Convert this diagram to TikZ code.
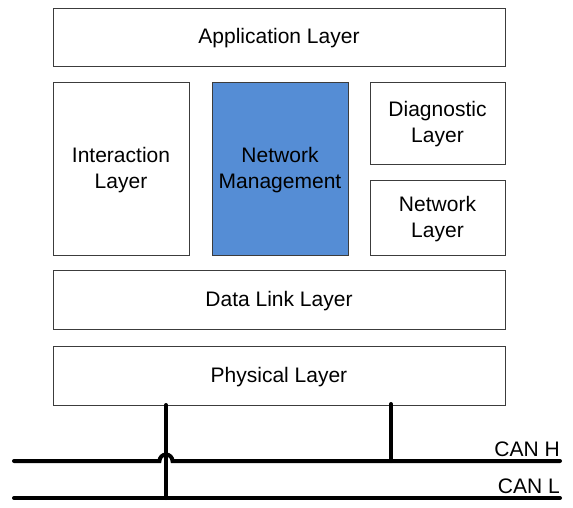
\documentclass[tikz,border=0pt]{standalone}
\usepackage{fontspec}
\setmainfont{Liberation Sans}
\definecolor{nmblue}{RGB}{85,141,213}
\definecolor{boxgray}{RGB}{60,60,60}
\begin{document}
\begin{tikzpicture}[x=1pt,y=1pt,
  layerbox/.style={draw=boxgray,line width=0.8pt,fill=white},
  boxtext/.style={font=\fontsize{21}{26}\selectfont,align=center,yshift=-1.5pt},
  bus/.style={line width=4pt,line cap=round},
  buslabel/.style={font=\fontsize{21}{24}\selectfont,inner sep=0pt,anchor=base east}]
\useasboundingbox (0,0) rectangle (573,507);
\node[layerbox,minimum width=452pt,minimum height=58pt,label={[boxtext]center:Application Layer}] (app) at (279,470) {};
\node[layerbox,minimum width=136pt,minimum height=173pt,label={[boxtext]center:Interaction\\Layer}] (inter) at (121,338.5) {};
\node[layerbox,fill=nmblue,minimum width=136pt,minimum height=173pt,label={[boxtext]center:Network\\Management}] (nm) at (280,338.5) {};
\node[layerbox,minimum width=135pt,minimum height=82pt,label={[boxtext]center:Diagnostic\\Layer}] (diag) at (437.5,384) {};
\node[layerbox,minimum width=135pt,minimum height=75pt,label={[boxtext]center:Network\\Layer}] (net) at (437.5,289.5) {};
\node[layerbox,minimum width=452pt,minimum height=59pt,label={[boxtext]center:Data Link Layer}] (dll) at (279,207.5) {};
\node[layerbox,minimum width=452pt,minimum height=59pt,label={[boxtext]center:Physical Layer}] (phy) at (279,131.5) {};
\coordinate (hl) at (14,46);
\coordinate (hr) at (560,46);
\coordinate (ll) at (14,9);
\coordinate (lr) at (560,9);
\coordinate (v1top) at (166,102);
\coordinate (v1bot) at (166,9);
\coordinate (v2top) at (391,103);
\coordinate (v2bot) at (391,46);
\draw[bus] (hl) -- (159.5,46) arc[start angle=180,end angle=0,radius=6.5] -- (hr);
\draw[bus] (ll) -- (lr);
\draw[bus] (v1top) -- (v1bot);
\draw[bus] (v2top) -- (v2bot);
\node[buslabel] (canh) at (560,51) {CAN H};
\node[buslabel] (canl) at (560,14) {CAN L};
\end{tikzpicture}
\end{document}
